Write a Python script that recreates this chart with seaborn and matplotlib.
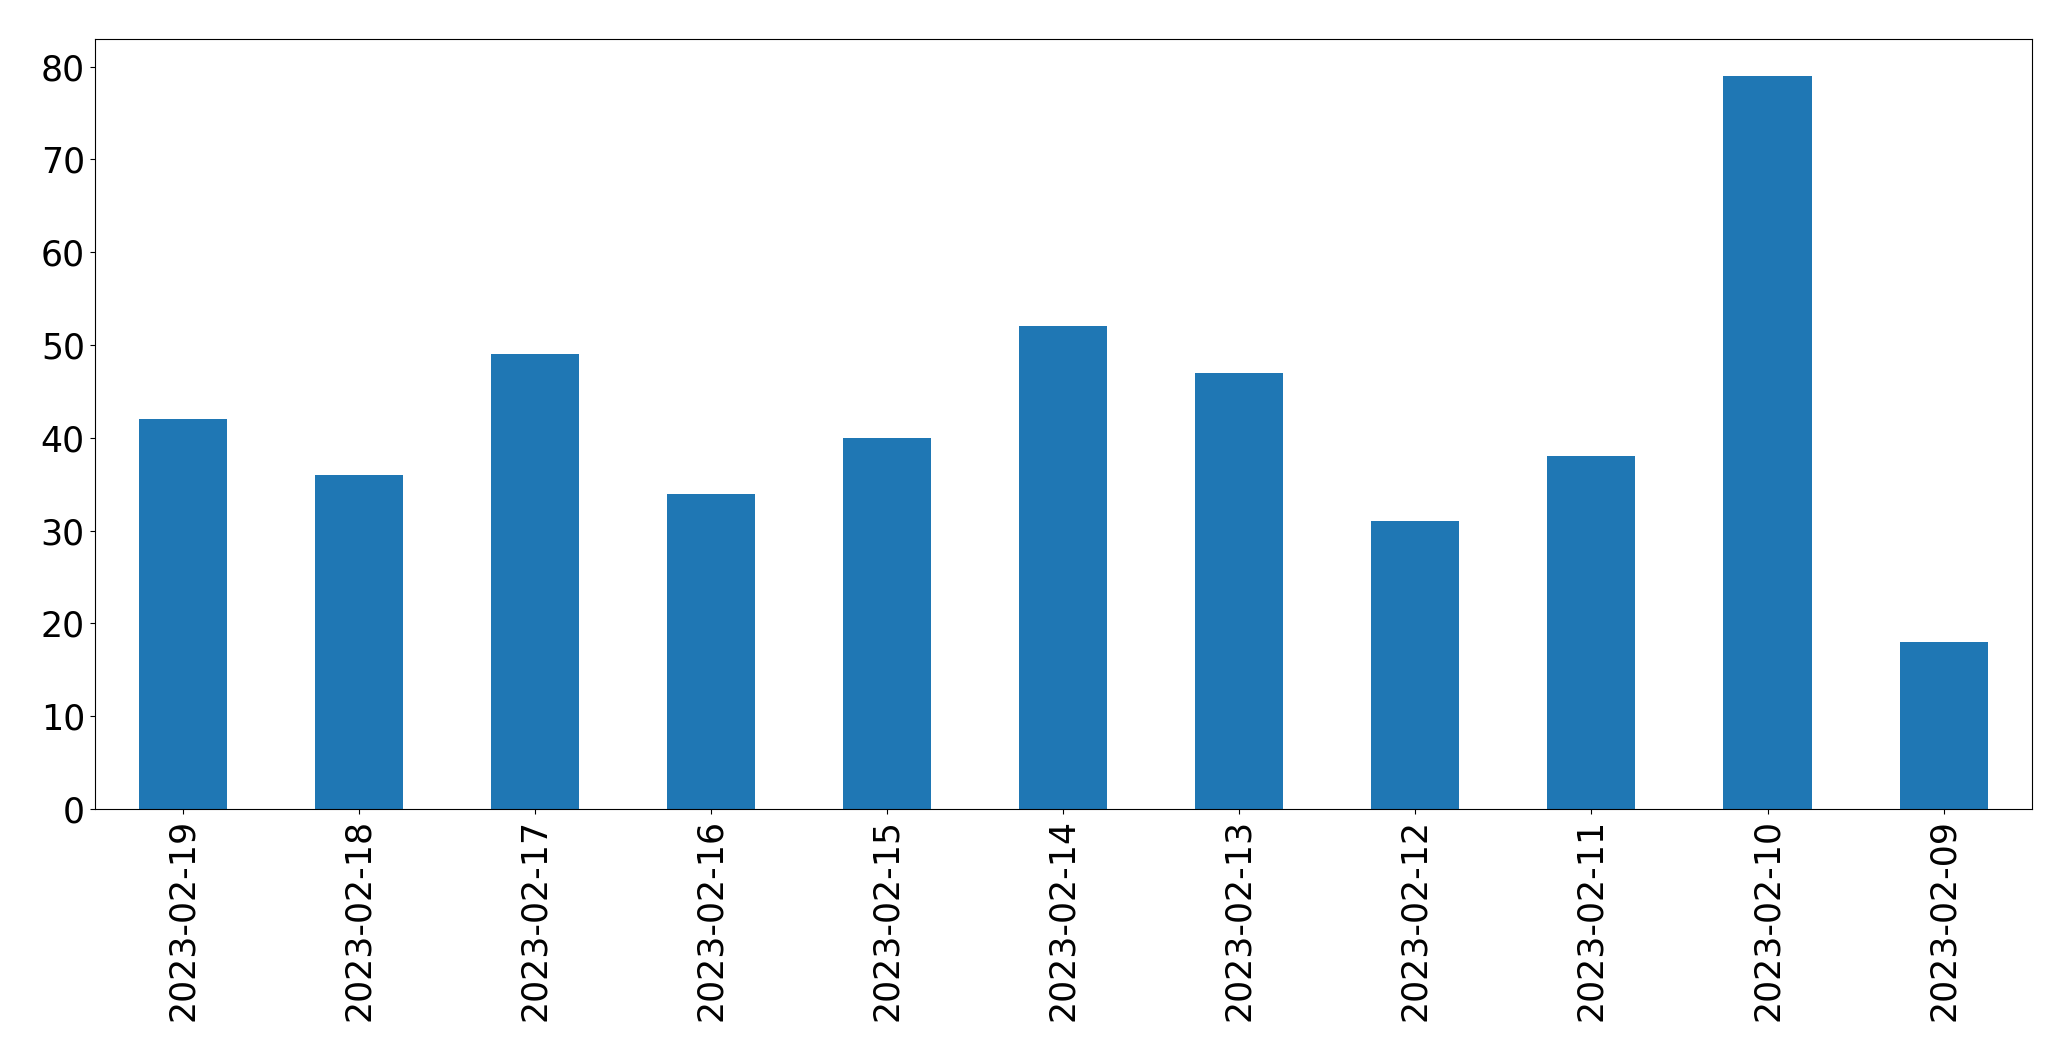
import matplotlib
matplotlib.use("Agg")
import matplotlib.pyplot as plt
import seaborn as sns
import pandas as pd

dates = ["2023-02-19", "2023-02-18", "2023-02-17", "2023-02-16", "2023-02-15",
         "2023-02-14", "2023-02-13", "2023-02-12", "2023-02-11", "2023-02-10",
         "2023-02-09"]
counts = [42, 36, 49, 34, 40, 52, 47, 31, 38, 79, 18]

df = pd.DataFrame({"date": dates, "count": counts})

fig = plt.figure(figsize=(20.71, 10.61), dpi=100)
ax = fig.add_axes([0.0457, 0.2375, 0.981 - 0.0457, 0.963 - 0.2375])
sns.barplot(data=df, x="date", y="count", order=dates, color="#1f77b4",
            saturation=1, width=0.5, ax=ax)
ax.set_xlim(-0.5, len(dates) - 0.5)
ax.set_ylim(0, max(counts) * 1.05)
ax.set_xlabel("")
ax.set_ylabel("")
ax.tick_params(axis="both", labelsize=25)
plt.setp(ax.get_xticklabels(), rotation=90)
for s in ax.spines.values():
    s.set_color("black")
fig.savefig("out.png", dpi=100)
